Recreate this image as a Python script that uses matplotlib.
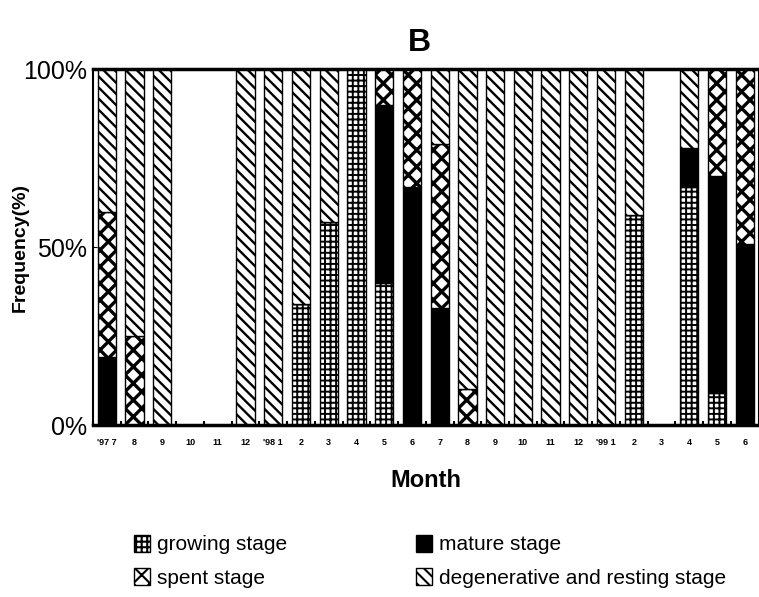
import numpy as np
import matplotlib
matplotlib.use("Agg")
import matplotlib.pyplot as plt

# month labels, Jul 1997 .. Jun 1999
months = ["'97 7", "8", "9", "10", "11", "12", "'98 1", "2", "3", "4", "5", "6",
          "7", "8", "9", "10", "11", "12", "'99 1", "2", "3", "4", "5", "6"]

# percentage of each stage per month (stacked bottom -> top)
growing = [0, 0, 0, 0, 0, 0, 0, 34, 57, 100, 40, 0, 0, 0, 0, 0, 0, 0, 0, 59, 0, 67, 9, 0]
mature = [19, 0, 0, 0, 0, 0, 0, 0, 0, 0, 50, 67, 33, 0, 0, 0, 0, 0, 0, 0, 0, 11, 61, 51]
spent = [41, 25, 0, 0, 0, 0, 0, 0, 0, 0, 10, 33, 46, 10, 0, 0, 0, 0, 0, 0, 0, 0, 30, 49]
degenerative = [40, 75, 100, 0, 0, 100, 100, 66, 43, 0, 0, 0, 21, 90, 100, 100, 100, 100, 100, 41, 0, 22, 0, 0]

plt.rcParams.update({
    "font.family": ["Liberation Sans", "DejaVu Sans"],
    "hatch.linewidth": 1.5,
    "hatch.color": "black",
})

fig = plt.figure(figsize=(7.59, 5.97), dpi=100)
ax = fig.add_axes([0.1225, 0.288, 0.877, 0.596])

x = np.arange(len(months))
w = 0.66
series = [
    ("growing stage", growing, dict(facecolor="white", hatch="+++"), 1.4),
    ("mature stage", mature, dict(facecolor="black"), 1.5),
    ("spent stage", spent, dict(facecolor="white", hatch="xx"), 2.4),
    ("degenerative and resting stage", degenerative, dict(facecolor="white", hatch="\\\\\\"), 1.7),
]
bottom = np.zeros(len(months))
handles = {}
for name, vals, style, hlw in series:
    vals = np.array(vals, dtype=float)
    with plt.rc_context({"hatch.linewidth": hlw}):
        bars = ax.bar(x, vals, w, bottom=bottom, edgecolor="black", linewidth=1.0,
                      label=name, **style)
    for p in bars:
        if hasattr(p, "set_hatch_linewidth"):
            p.set_hatch_linewidth(hlw)
    handles[name] = bars
    bottom += vals

ax.set_xlim(-0.5, len(months) - 0.5)
ax.set_ylim(0, 100)
ax.set_yticks([0, 50, 100])
ax.set_yticklabels(["0%", "50%", "100%"], fontsize=18)
ax.set_xticks(x)
ax.set_xticklabels(months, fontsize=6.5, fontweight="bold")
ax.tick_params(axis="x", length=0, pad=9)
ax.tick_params(axis="y", length=3, direction="in", pad=4)
ax.set_xticks(np.arange(len(months) + 1) - 0.5, minor=True)
ax.tick_params(axis="x", which="minor", length=3, direction="in", width=1.5)
for s in ax.spines.values():
    s.set_linewidth(1.5)
ax.spines["bottom"].set_linewidth(2.5)
ax.spines["top"].set_linewidth(2.5)

ax.set_xlabel("Month", fontsize=17, fontweight="bold", labelpad=16)
ax.set_ylabel("Frequency(%)", fontsize=14, fontweight="bold")
ax.yaxis.set_label_coords(-0.097, 0.5)
fig.text(0.553, 0.915, "B", fontsize=23, fontweight="bold", ha="center")

order = ["growing stage", "spent stage", "mature stage", "degenerative and resting stage"]
leg = fig.legend([handles[n] for n in order], order, loc="upper left",
                 bbox_to_anchor=(0.152, 0.136), ncol=2, frameon=False,
                 fontsize=15, handlelength=0.75, handleheight=0.9, handletextpad=0.35,
                 columnspacing=6.2, labelspacing=0.65)

fig.savefig("out.png", dpi=100)
